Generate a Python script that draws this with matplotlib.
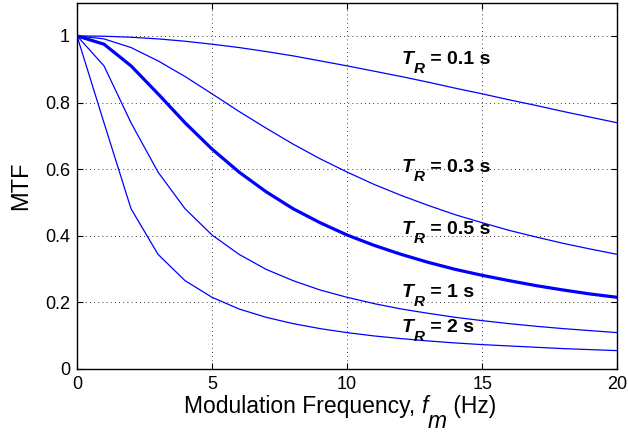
import numpy as np
import matplotlib
matplotlib.use("Agg")
import matplotlib.pyplot as plt
from matplotlib.transforms import IdentityTransform

freq = list(range(0, 21))
mtf_01 = [1.0, 0.999, 0.996, 0.991, 0.984, 0.975, 0.965, 0.953, 0.940, 0.925, 0.910,
          0.894, 0.878, 0.861, 0.843, 0.826, 0.808, 0.791, 0.773, 0.756, 0.739]
mtf_03 = [1.0, 0.991, 0.965, 0.925, 0.878, 0.826, 0.773, 0.723, 0.675, 0.631, 0.591,
          0.554, 0.521, 0.491, 0.463, 0.439, 0.416, 0.396, 0.377, 0.360, 0.344]
mtf_05 = [1.0, 0.975, 0.910, 0.826, 0.739, 0.660, 0.591, 0.532, 0.481, 0.439, 0.402,
          0.371, 0.344, 0.320, 0.299, 0.281, 0.265, 0.250, 0.237, 0.225, 0.215]
mtf_1 = [1.0, 0.910, 0.739, 0.591, 0.481, 0.402, 0.344, 0.299, 0.265, 0.237, 0.215,
         0.196, 0.180, 0.167, 0.155, 0.145, 0.136, 0.128, 0.121, 0.115, 0.109]
mtf_2 = [1.0, 0.739, 0.481, 0.344, 0.265, 0.215, 0.180, 0.155, 0.136, 0.121, 0.109,
         0.099, 0.091, 0.084, 0.078, 0.073, 0.069, 0.065, 0.061, 0.058, 0.055]

labels = ["0.1 s", "0.3 s", "0.5 s", "1 s", "2 s"]
label_y = [0.917, 0.592, 0.404, 0.217, 0.112]
label_x = 12.03

plt.rcParams['font.family'] = ['Liberation Sans', 'DejaVu Sans']

fig = plt.figure(figsize=(6.28, 4.32), dpi=100)
ax = fig.add_axes([0.1226, 0.146, 0.8604, 0.848])

blue = '#0000ff'
for vals in [mtf_01, mtf_03, mtf_1, mtf_2]:
    ax.plot(freq, vals, color=blue, lw=0.9)
ax.plot(freq, mtf_05, color=blue, lw=2.3)

ax.set_xlim(0, 20)
ax.set_ylim(0, 1.1)
ax.set_xticks([0, 5, 10, 15, 20])
ax.set_yticks([0, 0.2, 0.4, 0.6, 0.8, 1.0])
ax.set_yticklabels(["0", "0.2", "0.4", "0.6", "0.8", "1"])
ax.tick_params(direction='in', top=True, right=True, labelsize=13, length=4, width=0.8)
ax.tick_params(axis='x', pad=5)
ax.tick_params(axis='y', pad=5)
ax.grid(True, linestyle=(0, (1, 4)), color='black', linewidth=0.6)
for s in ax.spines.values():
    s.set_linewidth(1.0)

renderer = fig.canvas.get_renderer()


def write_pieces(x, y, pieces):
    # place text pieces one after another, in pixel coordinates
    for txt, dy, kw in pieces:
        t = fig.text(x, y + dy, txt, transform=IdentityTransform(),
                     va='baseline', ha='left', **kw)
        x += t.get_window_extent(renderer).width


big = dict(fontsize=14, fontweight='bold')
for lab, yv in zip(labels, label_y):
    px, py = ax.transData.transform((label_x, yv))
    write_pieces(px, py, [
        ('T', 0, dict(big, style='italic')),
        ('R', -9, dict(fontsize=11, fontweight='bold', style='italic')),
        (' = ' + lab, 0, big),
    ])

# x label with a dropped subscript, as in the original
norm = dict(fontsize=16.5)
write_pieces(184, 19, [
    ('Modulation Frequency, ', 0, norm),
    ('f', 0, dict(norm, style='italic')),
    ('m', -15, dict(norm, style='italic')),
    (' (Hz)', 0, norm),
])

fig.text(10 / 628, 0.57, 'MTF', fontsize=17, rotation=90, ha='left', va='center')

fig.savefig('out.png', dpi=100)
